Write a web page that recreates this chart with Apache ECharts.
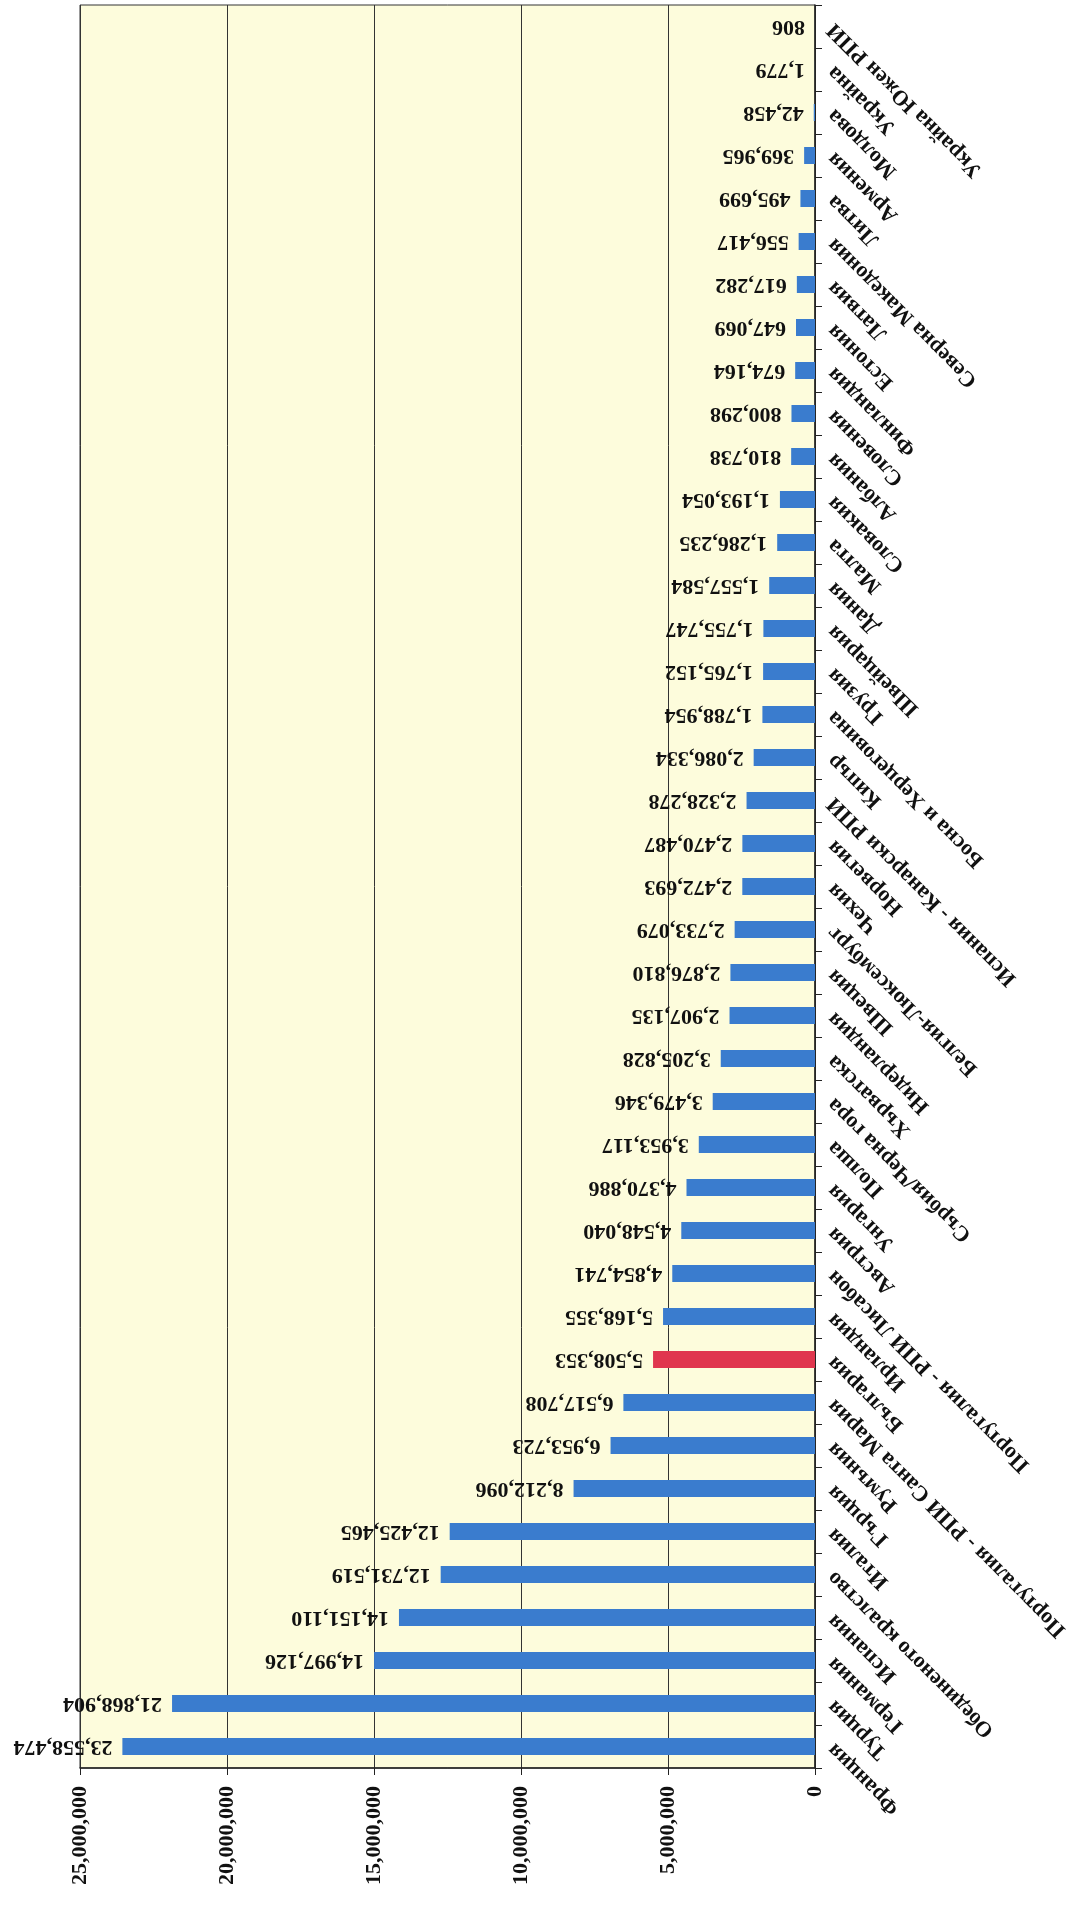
<!DOCTYPE html>
<html>
<head>
<meta charset="utf-8">
<script src="https://cdn.jsdelivr.net/npm/echarts@6/dist/echarts.min.js"></script>
<style>
html,body{margin:0;padding:0;background:#ffffff;}
#chart{width:1073px;height:1909px;}
</style>
</head>
<body>
<div id="chart"></div>
<script>
// Categories listed from the bottom of the chart (Франция) to the top
const categories = [
  'Франция','Турция','Германия','Испания','Обединеното кралство','Италия','Гърция','Румъния',
  'Португалия - РПИ Санта Мария','България','Ирландия','Португалия - РПИ Лисабон','Австрия',
  'Унгария','Полша','Сърбия/Черна гора','Хърватска','Нидерландия','Швеция','Белгия-Люксембург',
  'Чехия','Норвегия','Испания - Канарски РПИ','Кипър','Босна и Херцеговина','Грузия','Швейцария',
  'Дания','Малта','Словакия','Албания','Словения','Финландия','Естония','Латвия',
  'Северна Македония','Литва','Армения','Молдова','Украйна','Украйна Южен РПИ'
];
const values = [
  23558474, 21868904, 14997126, 14151110, 12731519, 12425465, 8212096, 6953723,
  6517708, 5508353, 5168355, 4854741, 4548040,
  4370886, 3953117, 3479346, 3205828, 2907135, 2876810, 2733079,
  2472693, 2470487, 2328278, 2086334, 1788954, 1765152, 1755747,
  1557584, 1286235, 1193054, 810738, 800298, 674164, 647069, 617282,
  556417, 495699, 369965, 42458, 1779, 806
];
const highlighted = ['България'];
const axisMin = 0, axisMax = 25000000, axisStep = 5000000;

const BLUE = '#3a7cce', RED = '#e0364e';
const FONT = '"Liberation Serif", "DejaVu Serif", serif';
const fmt = v => Math.round(v).toString().replace(/\B(?=(\d{3})+(?!\d))/g, ',');

const chart = echarts.init(document.getElementById('chart'));
chart.setOption({
  backgroundColor: '#ffffff',
  animation: false,
  grid: {
    left: 80, right: 258, top: 5, bottom: 141,
    show: true, backgroundColor: '#fdfcdc', borderColor: '#333', borderWidth: 1,
    containLabel: false
  },
  xAxis: {
    type: 'value', inverse: true, min: axisMin, max: axisMax, interval: axisStep,
    position: 'bottom',
    axisLine: {show: true, lineStyle: {color: '#222', width: 1.5}},
    axisTick: {show: true, length: 7, lineStyle: {color: '#222'}},
    splitLine: {show: true, lineStyle: {color: '#333', width: 1}},
    axisLabel: {
      rotate: 90, margin: 18, color: '#111', fontFamily: FONT, fontWeight: 'bold', fontSize: 22,
      formatter: v => fmt(v)
    }
  },
  yAxis: {
    type: 'category', data: categories, position: 'right',
    axisLine: {show: true, lineStyle: {color: '#222', width: 1.5}},
    axisTick: {show: true, length: 7, interval: 0, lineStyle: {color: '#222'}},
    splitLine: {show: false},
    axisLabel: {
      interval: 0, rotate: 135, margin: 16, color: '#111',
      fontFamily: FONT, fontWeight: 'bold', fontSize: 22
    }
  },
  series: [{
    type: 'bar',
    data: values.map((v, i) => ({
      value: v,
      itemStyle: {color: highlighted.includes(categories[i]) ? RED : BLUE}
    })),
    barWidth: 17,
    label: {
      show: true, position: 'left', distance: 10, rotate: 180, align: 'left',
      verticalAlign: 'middle',
      color: '#111', fontFamily: FONT, fontWeight: 'bold', fontSize: 22,
      formatter: p => fmt(p.value)
    }
  }]
});
</script>
</body>
</html>
